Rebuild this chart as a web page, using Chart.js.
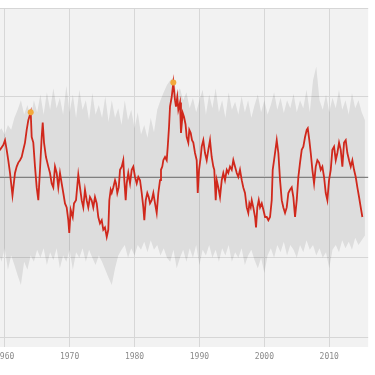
<!DOCTYPE html>
<html>
<head>
<meta charset="utf-8">
<script src="https://cdn.jsdelivr.net/npm/chart.js@4/dist/chart.umd.min.js"></script>
<style>
html,body{margin:0;padding:0;background:#fff;overflow:hidden;width:375px;height:375px;}
#wrap{position:absolute;left:-20px;top:0;width:395px;height:375px;}
</style>
</head>
<body>
<div id="wrap"><canvas id="c"></canvas></div>
<script>
// x-axis decade ticks
const tickYears = [1960, 1970, 1980, 1990, 2000, 2010];
const yTicks = [-2, -1, 0, 1];

// monthly-ish anomaly series (red line)
const lineYears = [1958.97,1959.28,1959.78,1960.05,1960.31,1960.55,1960.82,1961.20,1961.59,1961.85,1962.10,1962.36,1962.62,1962.87,1963.13,1963.39,1963.64,1964.01,1964.16,1964.41,1964.67,1964.93,1965.18,1965.44,1965.70,1965.86,1966.06,1966.36,1966.72,1966.98,1967.24,1967.49,1967.75,1968.01,1968.26,1968.52,1968.78,1969.03,1969.29,1969.55,1969.80,1969.95,1970.17,1970.48,1970.68,1970.99,1971.34,1971.60,1971.86,1972.11,1972.37,1972.63,1972.88,1973.14,1973.40,1973.65,1973.91,1974.18,1974.42,1974.68,1974.95,1975.19,1975.45,1975.72,1975.96,1976.12,1976.33,1976.49,1976.73,1977.00,1977.15,1977.35,1977.57,1977.77,1978.03,1978.27,1978.43,1978.64,1978.80,1979.04,1979.31,1979.57,1979.81,1980.08,1980.34,1980.59,1980.85,1981.11,1981.36,1981.51,1981.73,1981.97,1982.19,1982.39,1982.65,1982.90,1983.16,1983.42,1983.67,1983.93,1984.08,1984.28,1984.44,1984.70,1984.96,1985.12,1985.32,1985.47,1985.73,1985.98,1986.24,1986.39,1986.59,1986.75,1987.01,1987.16,1987.43,1987.63,1987.86,1988.04,1988.29,1988.44,1988.66,1988.86,1989.06,1989.32,1989.58,1989.74,1989.94,1990.20,1990.35,1990.60,1990.86,1991.12,1991.37,1991.63,1991.89,1992.14,1992.29,1992.51,1992.67,1992.91,1993.17,1993.44,1993.68,1993.94,1994.21,1994.45,1994.71,1994.98,1995.22,1995.48,1995.75,1995.99,1996.25,1996.52,1996.76,1997.02,1997.29,1997.53,1997.69,1997.90,1998.06,1998.30,1998.57,1998.72,1998.92,1999.14,1999.34,1999.60,1999.85,2000.11,2000.37,2000.62,2000.88,2001.14,2001.29,2001.50,2001.91,2002.16,2002.42,2002.68,2002.93,2003.19,2003.45,2003.70,2003.96,2004.22,2004.47,2004.73,2004.99,2005.24,2005.50,2005.76,2006.01,2006.27,2006.53,2006.69,2006.93,2007.15,2007.40,2007.66,2007.92,2008.17,2008.43,2008.69,2008.94,2009.20,2009.46,2009.71,2009.97,2010.23,2010.48,2010.74,2011.00,2011.25,2011.51,2011.77,2012.02,2012.28,2012.54,2012.79,2013.05,2013.31,2013.56,2013.82,2014.08,2014.33,2014.59,2014.85,2015.10];
const lineValues = [0.34,0.34,0.40,0.46,0.34,0.21,0.05,-0.23,0.05,0.13,0.18,0.21,0.25,0.34,0.43,0.59,0.71,0.81,0.50,0.43,0.13,-0.13,-0.29,0.09,0.50,0.68,0.43,0.25,0.13,0.05,-0.08,-0.13,0.13,0.05,-0.13,0.05,-0.08,-0.20,-0.33,-0.38,-0.54,-0.70,-0.41,-0.50,-0.33,-0.29,0.03,-0.13,-0.29,-0.38,-0.16,-0.29,-0.38,-0.25,-0.29,-0.38,-0.25,-0.33,-0.50,-0.58,-0.54,-0.66,-0.63,-0.75,-0.66,-0.29,-0.16,-0.20,-0.13,-0.04,-0.08,-0.20,-0.13,0.09,0.13,0.21,-0.04,-0.29,-0.08,0.05,-0.08,0.09,0.13,0.00,-0.08,0.00,-0.04,-0.20,-0.38,-0.54,-0.29,-0.20,-0.25,-0.33,-0.29,-0.20,-0.33,-0.45,-0.20,-0.04,0.09,0.13,0.21,0.25,0.21,0.38,0.63,0.88,1.00,1.18,0.96,0.88,1.00,0.84,0.93,0.55,0.80,0.75,0.66,0.50,0.43,0.59,0.55,0.46,0.43,0.30,0.21,-0.20,0.09,0.25,0.38,0.46,0.30,0.21,0.34,0.46,0.25,0.13,0.09,-0.29,-0.04,-0.13,-0.25,-0.04,0.05,-0.04,0.09,0.05,0.13,0.09,0.21,0.13,0.05,0.00,0.09,-0.04,-0.13,-0.20,-0.38,-0.45,-0.33,-0.38,-0.29,-0.38,-0.50,-0.63,-0.38,-0.29,-0.38,-0.33,-0.41,-0.50,-0.50,-0.54,-0.50,-0.29,0.09,0.21,0.46,0.30,-0.04,-0.29,-0.38,-0.45,-0.38,-0.20,-0.16,-0.13,-0.25,-0.50,-0.29,0.00,0.18,0.34,0.38,0.50,0.59,0.61,0.46,0.30,0.09,-0.08,0.13,0.21,0.18,0.09,0.13,0.00,-0.20,-0.29,-0.04,0.09,0.34,0.38,0.21,0.30,0.43,0.34,0.13,0.43,0.46,0.30,0.21,0.13,0.21,0.09,0.00,-0.13,-0.25,-0.38,-0.50];

// marked maxima
const peakYears = [1964.01, 1985.98];

// grey envelope (range), half-year steps starting 1959.0
const bandStartYear = 1959;
const bandStep = 0.5;
const bandUpper = [0.56,0.61,0.53,0.65,0.59,0.74,0.84,0.96,0.78,0.90,0.74,0.96,0.81,1.03,0.78,1.06,0.84,1.11,0.86,0.99,0.78,1.14,0.81,1.03,0.74,1.09,0.84,0.96,0.71,1.05,0.78,0.90,0.74,1.01,0.69,0.96,0.74,0.86,0.65,0.96,0.71,0.84,0.61,0.81,0.53,0.65,0.49,0.74,0.56,0.84,0.96,1.06,1.15,1.21,1.24,1.03,1.11,0.96,1.06,0.86,0.99,0.81,0.96,1.09,0.78,1.03,0.86,1.11,0.81,0.96,0.74,1.06,0.84,0.94,0.78,1.01,0.81,0.96,0.74,0.90,1.03,0.81,0.96,0.78,0.90,1.06,0.84,0.99,0.80,0.96,0.86,1.04,0.81,0.96,0.86,1.09,0.81,1.21,1.38,0.96,0.84,1.03,0.81,0.99,0.86,1.09,0.84,0.96,0.78,1.05,0.86,0.96,0.81,0.71];
const bandLower = [-0.91,-1.06,-0.89,-1.16,-0.98,-1.10,-1.23,-1.35,-1.06,-1.16,-0.98,-1.06,-0.91,-1.01,-0.89,-1.10,-0.94,-1.04,-0.89,-1.14,-0.98,-1.06,-0.91,-1.16,-0.94,-1.01,-0.89,-1.06,-0.91,-1.01,-1.10,-0.98,-1.06,-1.16,-1.26,-1.35,-1.14,-0.98,-0.91,-0.85,-1.01,-0.89,-0.98,-0.85,-0.91,-0.81,-0.94,-0.79,-0.91,-0.85,-0.98,-0.89,-1.01,-1.06,-0.91,-1.14,-1.01,-0.91,-1.06,-0.89,-1.01,-0.85,-1.10,-0.91,-0.98,-0.85,-1.01,-0.91,-1.06,-0.89,-0.98,-0.85,-1.06,-0.94,-1.01,-0.89,-1.10,-0.98,-0.91,-1.04,-1.14,-1.01,-1.20,-0.98,-0.89,-1.01,-0.85,-0.94,-0.81,-0.98,-0.85,-0.91,-1.01,-0.85,-0.94,-0.79,-0.91,-0.85,-0.98,-0.89,-1.01,-0.94,-1.14,-0.91,-0.85,-0.94,-0.79,-0.89,-0.81,-0.91,-0.76,-0.85,-0.79,-0.73];

const xMin = 1958, xMax = 2016;
const yMin = -2.125, yMax = 2.1125;
const baselineValue = 0;

const lineData = lineYears.map((t, i) => ({x: t, y: lineValues[i]}));
const upperData = bandUpper.map((v, i) => ({x: bandStartYear + i * bandStep, y: v}));
const lowerData = bandLower.map((v, i) => ({x: bandStartYear + i * bandStep, y: v}));

const plotBg = {
  id: 'plotBg',
  beforeDraw(chart) {
    const a = chart.chartArea, ctx = chart.ctx;
    ctx.save();
    ctx.fillStyle = '#f2f2f2';
    ctx.fillRect(a.left, a.top, a.right - a.left, a.bottom - a.top);
    ctx.restore();
  },
  // baseline drawn above the grey band, below the red line
  beforeDatasetDraw(chart, args) {
    if (args.index !== 0) return;
    const a = chart.chartArea, ctx = chart.ctx;
    const y = Math.round(chart.scales.y.getPixelForValue(baselineValue)) + 0.5;
    ctx.save();
    ctx.strokeStyle = '#808080';
    ctx.lineWidth = 1;
    ctx.beginPath();
    ctx.moveTo(a.left, y);
    ctx.lineTo(a.right, y);
    ctx.stroke();
    ctx.restore();
  }
};

const isPeak = (ctx) => ctx.datasetIndex === 0 && peakYears.includes(lineYears[ctx.dataIndex]);

new Chart(document.getElementById('c'), {
  type: 'line',
  data: {
    datasets: [
      {
        label: 'anomaly',
        data: lineData,
        borderColor: '#d0281c',
        borderWidth: 1.8,
        tension: 0,
        fill: false,
        pointRadius: (ctx) => isPeak(ctx) ? 3 : 0,
        pointBackgroundColor: '#f2a93b',
        pointBorderWidth: 0,
        pointBorderColor: '#f2a93b'
      },
      {
        label: 'upper',
        data: upperData,
        borderWidth: 0,
        borderColor: 'rgba(0,0,0,0)',
        pointRadius: 0,
        tension: 0,
        fill: false
      },
      {
        label: 'lower',
        data: lowerData,
        borderWidth: 0,
        borderColor: 'rgba(0,0,0,0)',
        backgroundColor: 'rgba(0,0,0,0.085)',
        pointRadius: 0,
        tension: 0,
        fill: '-1'
      }
    ]
  },
  options: {
    responsive: true,
    maintainAspectRatio: false,
    animation: false,
    layout: { padding: { left: 11.7, right: 6.8, top: 8, bottom: 0 } },
    plugins: { legend: { display: false }, tooltip: { enabled: false } },
    scales: {
      x: {
        type: 'linear',
        min: xMin,
        max: xMax,
        afterBuildTicks(scale) { scale.ticks = tickYears.map(v => ({value: v})); },
        afterFit(scale) { scale.height = 28; },
        grid: { color: '#d7d7d7', lineWidth: 1, drawTicks: false },
        border: { display: false },
        ticks: {
          padding: 5,
          color: '#8a8a8a',
          font: { family: '"DejaVu Sans Mono", monospace', size: 8 },
          callback: (v) => String(v)
        }
      },
      y: {
        type: 'linear',
        min: yMin,
        max: yMax,
        afterBuildTicks(scale) { scale.ticks = yTicks.map(v => ({value: v})).concat([{value: scale.max}]); },
        afterFit(scale) { scale.width = 0; },
        grid: {
          drawTicks: false,
          color: '#d6d6d6',
          lineWidth: 1
        },
        border: { display: false },
        ticks: { display: false }
      }
    }
  },
  plugins: [plotBg]
});
</script>
</body>
</html>
